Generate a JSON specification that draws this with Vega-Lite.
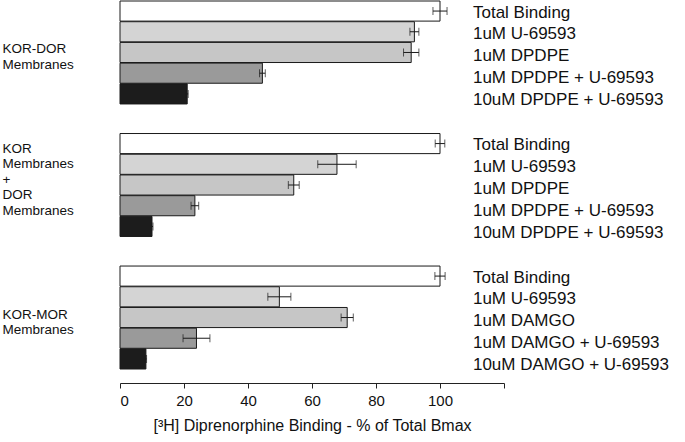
{
  "$schema": "https://vega.github.io/schema/vega-lite/v6.json",
  "width": 384,
  "height": 382,
  "padding": {"left": 2, "top": 0, "right": 4, "bottom": 4},
  "config": {
    "view": {"stroke": null},
    "font": "Liberation Sans",
    "background": "#ffffff"
  },
  "data": {
    "values": [
      {"group": "KOR-DOR|Membranes", "slot": 1, "label": "Total Binding", "value": 100, "lo": 97.8, "hi": 102.2},
      {"group": "KOR-DOR|Membranes", "slot": 2, "label": "1uM U-69593", "value": 92, "lo": 90.6, "hi": 93.4},
      {"group": "KOR-DOR|Membranes", "slot": 3, "label": "1uM DPDPE", "value": 91, "lo": 88.6, "hi": 93.4},
      {"group": "KOR-DOR|Membranes", "slot": 4, "label": "1uM DPDPE + U-69593", "value": 44.5, "lo": 43.6, "hi": 45.4},
      {"group": "KOR-DOR|Membranes", "slot": 5, "label": "10uM DPDPE + U-69593", "value": 21, "lo": 20.7, "hi": 21.3},
      {"group": "KOR|Membranes|+|DOR|Membranes", "slot": 1, "label": "Total Binding", "value": 100, "lo": 98.5, "hi": 101.5},
      {"group": "KOR|Membranes|+|DOR|Membranes", "slot": 2, "label": "1uM U-69593", "value": 67.8, "lo": 61.8, "hi": 73.8},
      {"group": "KOR|Membranes|+|DOR|Membranes", "slot": 3, "label": "1uM DPDPE", "value": 54.3, "lo": 52.6, "hi": 56},
      {"group": "KOR|Membranes|+|DOR|Membranes", "slot": 4, "label": "1uM DPDPE + U-69593", "value": 23.4, "lo": 22.2, "hi": 24.6},
      {"group": "KOR|Membranes|+|DOR|Membranes", "slot": 5, "label": "10uM DPDPE + U-69593", "value": 10, "lo": 9.7, "hi": 10.3},
      {"group": "KOR-MOR|Membranes", "slot": 1, "label": "Total Binding", "value": 100, "lo": 98.4, "hi": 101.6},
      {"group": "KOR-MOR|Membranes", "slot": 2, "label": "1uM U-69593", "value": 49.8, "lo": 46.2, "hi": 53.4},
      {"group": "KOR-MOR|Membranes", "slot": 3, "label": "1uM DAMGO", "value": 71, "lo": 69.1, "hi": 72.9},
      {"group": "KOR-MOR|Membranes", "slot": 4, "label": "1uM DAMGO + U-69593", "value": 23.9, "lo": 19.7, "hi": 28.1},
      {"group": "KOR-MOR|Membranes", "slot": 5, "label": "10uM DAMGO + U-69593", "value": 8.1, "lo": 7.9, "hi": 8.3}
    ]
  },
  "encoding": {
    "y": {
      "field": "group",
      "type": "nominal",
      "sort": ["KOR-DOR|Membranes", "KOR|Membranes|+|DOR|Membranes", "KOR-MOR|Membranes"],
      "scale": {"paddingInner": 0.223, "paddingOuter": 0, "range": [0, 368]},
      "axis": {
        "title": null,
        "labelAlign": "left",
        "labelBaseline": "middle",
        "labelPadding": 118,
        "labelOffset": {"condition": {"test": "datum.value == 'KOR|Membranes|+|DOR|Membranes'", "value": -36.5}, "value": -3},
        "ticks": false,
        "labelFontSize": 13.5,
        "labelLineHeight": 15.5,
        "labelColor": "#111111",
        "domain": false,
        "labelExpr": "split(datum.label, '|')"
      }
    },
    "yOffset": {
      "field": "slot",
      "type": "ordinal",
      "scale": {"paddingInner": 0.03, "paddingOuter": 0}
    }
  },
  "layer": [
    {
      "mark": {"type": "rule", "stroke": "#222222", "strokeWidth": 1},
      "encoding": {"x": {"datum": 0}}
    },
    {
      "mark": {"type": "bar", "stroke": "#1a1a1a", "strokeWidth": 1},
      "encoding": {
        "x": {
          "field": "value",
          "type": "quantitative",
          "scale": {"domain": [0, 120], "nice": false},
          "axis": {
            "values": [0, 20, 40, 60, 80, 100, 120],
            "labelExpr": "datum.value == 120 ? '' : datum.label",
            "grid": false,
            "tickSize": 5,
            "labelFontSize": 15,
            "labelPadding": 5,
            "labelColor": "#111111",
            "domainColor": "#222222",
            "tickColor": "#222222",
            "title": "[³H] Diprenorphine Binding - % of Total Bmax",
            "titleFontSize": 16,
            "titleFontWeight": "normal",
            "titleColor": "#111111",
            "titlePadding": 9
          }
        },
        "fill": {
          "field": "slot",
          "type": "ordinal",
          "scale": {"domain": [1, 2, 3, 4, 5], "range": ["#ffffff", "#d4d4d4", "#c6c6c6", "#9a9a9a", "#1c1c1c"]},
          "legend": null
        }
      }
    },
    {
      "mark": {"type": "rule", "stroke": "#1a1a1a", "strokeWidth": 1},
      "encoding": {
        "x": {"field": "lo", "type": "quantitative"},
        "x2": {"field": "hi"}
      }
    },
    {
      "mark": {"type": "tick", "color": "#1a1a1a", "thickness": 1, "size": 8, "orient": "vertical"},
      "encoding": {"x": {"field": "lo", "type": "quantitative"}}
    },
    {
      "mark": {"type": "tick", "color": "#1a1a1a", "thickness": 1, "size": 8, "orient": "vertical"},
      "encoding": {"x": {"field": "hi", "type": "quantitative"}}
    },
    {
      "transform": [{"filter": "datum.slot == 1"}],
      "mark": {"type": "text", "align": "left", "baseline": "middle", "dy": 1.5, "fontSize": 17, "color": "#111111"},
      "encoding": {"x": {"datum": 110.3}, "text": {"field": "label"}}
    },
    {
      "transform": [{"filter": "datum.slot == 2"}],
      "mark": {"type": "text", "align": "left", "baseline": "middle", "dy": 2.5, "fontSize": 17, "color": "#111111"},
      "encoding": {"x": {"datum": 110.3}, "text": {"field": "label"}}
    },
    {
      "transform": [{"filter": "datum.slot == 3"}],
      "mark": {"type": "text", "align": "left", "baseline": "middle", "dy": 3.8, "fontSize": 17, "color": "#111111"},
      "encoding": {"x": {"datum": 110.3}, "text": {"field": "label"}}
    },
    {
      "transform": [{"filter": "datum.slot == 4"}],
      "mark": {"type": "text", "align": "left", "baseline": "middle", "dy": 4.9, "fontSize": 17, "color": "#111111"},
      "encoding": {"x": {"datum": 110.3}, "text": {"field": "label"}}
    },
    {
      "transform": [{"filter": "datum.slot == 5"}],
      "mark": {"type": "text", "align": "left", "baseline": "middle", "dy": 6.3, "fontSize": 17, "color": "#111111"},
      "encoding": {"x": {"datum": 110.3}, "text": {"field": "label"}}
    }
  ]
}
